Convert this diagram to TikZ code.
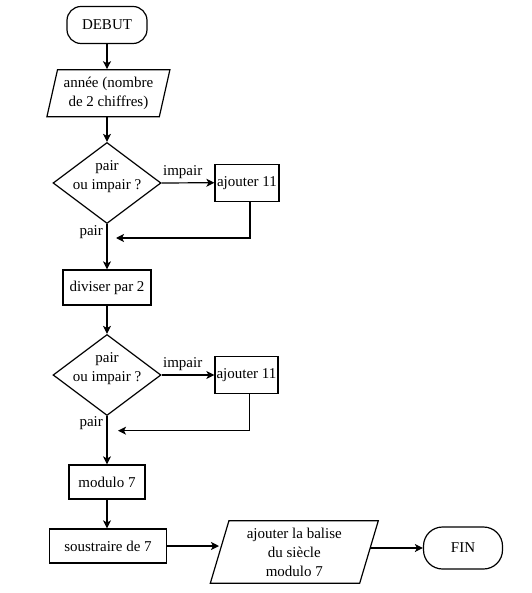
\documentclass[tikz,border=0pt]{standalone}
\usepackage{fontspec}
\setmainfont{Liberation Serif}
\usetikzlibrary{shapes.geometric,arrows.meta}
\begin{document}
\begin{tikzpicture}[x=1pt,y=-1pt, font=\fontsize{15}{19}\selectfont,
 every node/.style={inner sep=0pt},
 base/.style={draw, line width=1.2pt},
 term/.style={base, rectangle, rounded corners=14pt},
 proc/.style={base, rectangle},
 io/.style={base, trapezium, trapezium stretches body, align=center},
 dec/.style={base, diamond, minimum width=108pt, minimum height=81pt},
 dectext/.style={align=center, yshift=6pt},
 arr/.style={line width=1.2pt, -{Stealth[length=8pt,width=8pt,inset=2pt]}},
 lbl/.style={inner sep=3.5pt}]
\useasboundingbox (0,0) rectangle (531,593);

\node[term, minimum width=80pt, minimum height=37pt] (debut) at (107,25) {DEBUT};
\node[io, trapezium left angle=72, trapezium right angle=108, minimum width=123pt, minimum height=47pt] (in) at (108.4,93.3) {année (nombre\\de 2 chiffres)};
\node[dec, label={[dectext]center:{pair\\ou impair ?}}] (d1) at (107,183) {};
\node[proc, minimum width=64pt, minimum height=37pt] (a1) at (247,182.7) {ajouter 11};
\node[proc, minimum width=88pt, minimum height=35pt] (div) at (107,287.5) {diviser par 2};
\node[dec, label={[dectext]center:{pair\\ou impair ?}}] (d2) at (107,375) {};
\node[proc, minimum width=63pt, minimum height=37pt] (a2) at (246.5,375) {ajouter 11};
\node[proc, minimum width=76pt, minimum height=34pt] (mod) at (107,482) {modulo 7};
\node[proc, minimum width=117pt, minimum height=34pt] (sous) at (108,546) {soustraire de 7};
\node[io, trapezium left angle=69, trapezium right angle=111, minimum width=168pt, minimum height=62.6pt] (out) at (294.3,552) {ajouter la balise\\du siècle\\modulo 7};
\node[term, rounded corners=19pt, minimum width=79pt, minimum height=42pt] (fin) at (463,548) {FIN};

\coordinate (j1) at (116,238);
\coordinate (j2) at (118,430.7);

\draw[arr] (debut.south) -- (debut.south |- in.north);
\draw[arr] (d1.north |- in.south) -- (d1.north);
\draw[arr] (d1.east) -- node[lbl, above, pos=0.4]{impair} (a1.west);
\draw[arr] ([xshift=3pt]a1.south) |- (j1);
\draw[arr] (d1.south) -- node[lbl, left, pos=0.17]{pair} (div.north);
\draw[arr] (div.south) -- (d2.north);
\draw[arr] (d2.east) -- node[lbl, above, pos=0.4]{impair} (a2.west);
\draw[arr] ([xshift=3pt]a2.south) |- (j2);
\draw[arr] (d2.south) -- node[lbl, left, pos=0.14]{pair} (mod.north);
\draw[arr] (mod.south) -- (mod.south |- sous.north);
\draw[arr] (sous.east) -- (sous.east -| out.west);
\draw[arr] (out.east |- fin.west) -- (fin.west);
\end{tikzpicture}
\end{document}
